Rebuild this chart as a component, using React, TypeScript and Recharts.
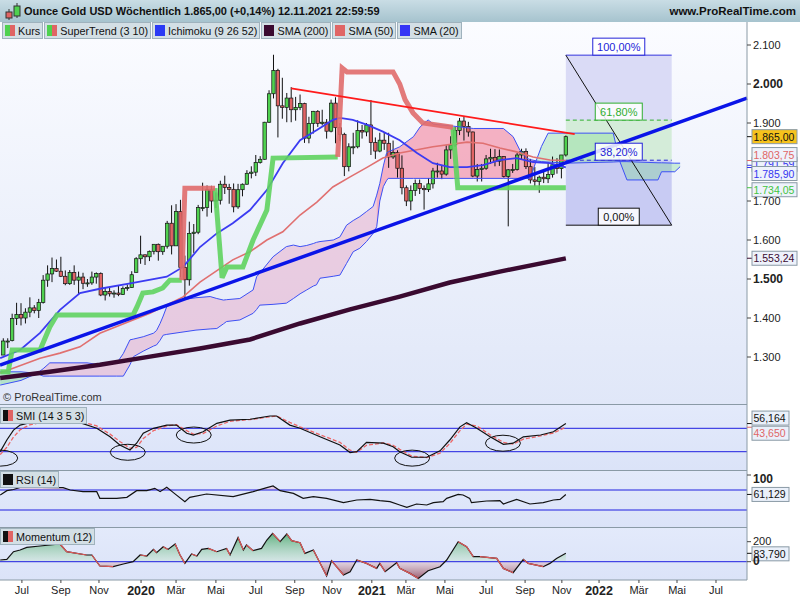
import React from 'react';
import { ComposedChart, Bar, Line, Area, Scatter, XAxis, YAxis, ReferenceLine } from 'recharts';

type Pair = [number, number];

// weekly candles, first bar = week of 7 Jun 2019, last = 12 Nov 2021
const open = [1305, 1341, 1342, 1399, 1409, 1400, 1415, 1426, 1419, 1440, 1497, 1513, 1527, 1520, 1507, 1488, 1517, 1497, 1505, 1489, 1490, 1505, 1514, 1459, 1468, 1462, 1464, 1460, 1476, 1478, 1517, 1552, 1562, 1557, 1571, 1589, 1570, 1584, 1643, 1585, 1673, 1530, 1498, 1617, 1620, 1683, 1683, 1729, 1700, 1702, 1743, 1735, 1730, 1685, 1729, 1743, 1771, 1774, 1799, 1807, 1902, 1975, 2035, 1944, 1940, 1964, 1934, 1940, 1950, 1861, 1899, 1930, 1899, 1902, 1879, 1951, 1888, 1871, 1788, 1839, 1839, 1881, 1877, 1895, 1850, 1828, 1856, 1848, 1813, 1824, 1784, 1734, 1700, 1727, 1745, 1732, 1729, 1744, 1777, 1777, 1769, 1831, 1844, 1881, 1905, 1891, 1877, 1764, 1781, 1784, 1808, 1812, 1802, 1814, 1763, 1780, 1781, 1818, 1827, 1788, 1754, 1750, 1761, 1757, 1768, 1793, 1783, 1818];
const high = [1348, 1348, 1411, 1439, 1438, 1425, 1453, 1433, 1449, 1510, 1535, 1555, 1550, 1557, 1522, 1523, 1535, 1519, 1516, 1500, 1519, 1517, 1517, 1479, 1478, 1471, 1484, 1481, 1486, 1520, 1556, 1611, 1563, 1573, 1589, 1591, 1584, 1649, 1689, 1692, 1703, 1560, 1647, 1641, 1690, 1747, 1740, 1739, 1722, 1752, 1765, 1744, 1745, 1744, 1745, 1779, 1789, 1818, 1815, 1903, 1984, 2075, 2039, 2016, 1977, 1992, 1967, 1973, 1952, 1916, 1931, 1933, 1934, 1910, 1960, 1966, 1900, 1875, 1848, 1875, 1907, 1895, 1900, 1959, 1863, 1875, 1876, 1875, 1855, 1830, 1817, 1740, 1740, 1755, 1755, 1740, 1759, 1785, 1798, 1790, 1843, 1866, 1890, 1913, 1916, 1903, 1878, 1795, 1795, 1818, 1834, 1833, 1832, 1815, 1782, 1795, 1823, 1834, 1835, 1808, 1787, 1765, 1781, 1800, 1814, 1810, 1818, 1868];
const low = [1305, 1323, 1340, 1382, 1381, 1386, 1402, 1412, 1400, 1437, 1480, 1492, 1518, 1505, 1484, 1485, 1485, 1460, 1474, 1480, 1485, 1488, 1456, 1445, 1455, 1452, 1456, 1459, 1470, 1477, 1517, 1539, 1536, 1546, 1563, 1547, 1562, 1578, 1563, 1585, 1504, 1451, 1483, 1567, 1615, 1674, 1660, 1670, 1682, 1691, 1718, 1693, 1671, 1680, 1712, 1742, 1758, 1764, 1796, 1806, 1900, 1963, 1863, 1911, 1902, 1902, 1906, 1933, 1849, 1848, 1873, 1890, 1894, 1860, 1876, 1848, 1854, 1764, 1776, 1820, 1835, 1860, 1866, 1818, 1808, 1825, 1831, 1785, 1808, 1760, 1717, 1687, 1676, 1713, 1718, 1678, 1723, 1732, 1760, 1756, 1765, 1808, 1839, 1869, 1855, 1865, 1761, 1750, 1750, 1780, 1795, 1789, 1790, 1760, 1635, 1772, 1778, 1806, 1782, 1745, 1737, 1721, 1746, 1746, 1760, 1770, 1758, 1814];
const close = [1341, 1341, 1399, 1409, 1400, 1415, 1426, 1419, 1440, 1497, 1513, 1527, 1520, 1507, 1488, 1517, 1497, 1505, 1489, 1490, 1505, 1514, 1459, 1468, 1462, 1464, 1460, 1476, 1478, 1511, 1552, 1562, 1557, 1571, 1589, 1570, 1584, 1643, 1585, 1673, 1530, 1498, 1617, 1620, 1683, 1683, 1729, 1700, 1702, 1743, 1735, 1730, 1685, 1729, 1743, 1771, 1774, 1799, 1807, 1902, 1975, 2035, 1944, 1940, 1964, 1934, 1940, 1950, 1861, 1899, 1930, 1899, 1902, 1879, 1951, 1888, 1871, 1788, 1839, 1839, 1881, 1877, 1895, 1850, 1828, 1856, 1848, 1813, 1824, 1784, 1734, 1700, 1727, 1745, 1732, 1729, 1744, 1777, 1777, 1769, 1831, 1844, 1881, 1905, 1891, 1877, 1764, 1781, 1784, 1808, 1812, 1802, 1814, 1763, 1780, 1781, 1818, 1827, 1788, 1754, 1750, 1761, 1757, 1768, 1793, 1783, 1818, 1865];

// moving averages as [week, value]
const sma20: Pair[] = [[-0.7, 1297], [3.8, 1318], [8.3, 1362], [12.8, 1421], [17.3, 1464], [21.8, 1475], [29.3, 1490], [36.9, 1506], [40.6, 1531], [44.4, 1582], [48.2, 1617], [51.8, 1643], [55.7, 1677], [59.5, 1728], [63.1, 1797], [67, 1856], [70.8, 1882], [74.4, 1908], [76, 1913], [78.9, 1908], [82.2, 1895], [85.7, 1878], [89.5, 1856], [93.4, 1823], [97, 1797], [100.8, 1787], [104.7, 1787], [108.3, 1792], [112.1, 1805], [115.9, 1810], [119.6, 1800], [123.4, 1797], [127, 1786]];
const sma50: Pair[] = [[-0.7, 1259], [8.3, 1297], [12.8, 1310], [17.3, 1326], [21.8, 1361], [33.1, 1412], [40.6, 1454], [44.4, 1492], [51.8, 1549], [55.7, 1570], [59.5, 1600], [63.1, 1621], [67, 1664], [70.8, 1697], [74.4, 1736], [78.3, 1762], [82.2, 1787], [85.7, 1810], [89.5, 1823], [97, 1839], [104.7, 1851], [108.3, 1848], [112.1, 1836], [115.9, 1826], [119.6, 1813], [123.4, 1805], [127, 1804]];
const sma200: Pair[] = [[-0.7, 1246], [10.5, 1262], [21.8, 1280], [33.1, 1301], [44.4, 1322], [55.7, 1345], [67, 1386], [78.3, 1422], [89.5, 1455], [100.8, 1491], [112.1, 1519], [127, 1553]];

// Ichimoku cloud (spans already shifted 26 weeks ahead)
const cloudIdx = [-0.7, 4, 7.6, 9, 10.5, 18.9, 21.8, 25.6, 27.1, 28.6, 29.4, 31.6, 33.9, 34.6, 35.4, 36.1, 36.9, 39.9, 43.5, 46.7, 48.2, 49.7, 50.4, 53.4, 56.4, 57.2, 57.9, 60.9, 63.9, 65.5, 67, 68.5, 70, 70.7, 71.5, 74.5, 76, 77.5, 79, 80.5, 82, 83.5, 84.3, 85, 85.8, 86.5, 86.9, 89.5, 92.6, 94.1, 95.9, 97.1, 101.6, 106.1, 112.9, 115.1, 116.6, 118.1, 119, 120.3, 121.5, 123, 127, 137.7, 139.2, 140.8, 147.8, 148.6, 151.6, 152.8];
const spanA = [1228, 1240, 1258, 1270, 1285, 1285, 1280, 1284, 1309, 1344, 1346, 1352, 1361, 1368, 1386, 1405, 1429, 1446, 1452, 1455, 1450, 1446, 1447, 1450, 1472, 1506, 1515, 1557, 1583, 1587, 1583, 1586, 1591, 1594, 1596, 1600, 1608, 1638, 1650, 1660, 1673, 1686, 1715, 1745, 1790, 1822, 1826, 1839, 1865, 1890, 1908, 1897, 1892, 1886, 1886, 1865, 1831, 1810, 1806, 1803, 1801, 1800, 1797, 1800, 1801, 1801, 1798, 1798, 1797, 1797];
const spanB = [1262, 1262, 1258, 1251, 1251, 1251, 1251, 1251, 1251, 1280, 1301, 1315, 1328, 1331, 1343, 1356, 1358, 1363, 1369, 1372, 1373, 1385, 1391, 1395, 1412, 1422, 1433, 1435, 1438, 1450, 1462, 1472, 1482, 1485, 1502, 1507, 1510, 1540, 1570, 1579, 1596, 1617, 1634, 1700, 1737, 1752, 1758, 1758, 1758, 1758, 1758, 1758, 1758, 1758, 1758, 1758, 1758, 1758, 1758, 1803, 1840, 1874, 1874, 1874, 1801, 1754, 1754, 1775, 1775, 1788];
const cloudBreaks = [-0.7, 7.6, 84.3, 120.3, 152.8];
const cloudFills = ['rgba(110,215,130,0.4)', 'rgba(232,170,200,0.5)', 'rgba(244,140,165,0.65)', 'rgba(110,215,130,0.3)'];

// SuperTrend (3 10) segments
const stGreen: Pair[][] = [
  [[-0.7, 1262], [1.1, 1262], [2, 1318], [8.3, 1318], [10.5, 1377], [12.1, 1408], [29.3, 1408], [30.2, 1429], [31.5, 1464], [33.8, 1467], [36, 1477], [37.6, 1497], [40.3, 1497]],
  [[47.8, 1733], [49.4, 1503], [50.5, 1531], [54.1, 1531], [56.4, 1600], [59.5, 1677], [60.9, 1810], [75.5, 1813]],
  [[101.5, 1889], [102.6, 1734], [127, 1734]],
];
const stRed: Pair[][] = [
  [[40.3, 1497], [41, 1733], [47.8, 1733]],
  [[75.5, 1813], [76.5, 2041], [77.6, 2031], [88, 2031], [89.5, 2000], [90.7, 1960], [92.5, 1926], [94.7, 1900], [101.5, 1889]],
];

const resistance: Pair[] = [[65, 1989], [129, 1871.5]];
const support: Pair[] = [[-0.745, 1279.5], [167.9, 1964]];

const fibX = [127, 150.9];
const fibLevels = [1638, 1804.6, 1907.4, 2074];
const fibLabels = ['0,00%', '38,20%', '61,80%', '100,00%'];

// lower panels
const smi: Pair[] = [[-0.7, -40], [0.8, 0], [2.3, 34], [3.8, 51], [6, 59], [10.5, 68], [16.6, 63], [21.1, 40], [24.1, 11], [26.3, -17], [28.6, -34], [30.1, -11], [31.6, 23], [33.9, 40], [36.9, 51], [39.1, 51], [41.4, 23], [42.9, 17], [45.1, 28], [48.2, 57], [51.2, 68], [55.7, 71], [60.2, 82], [61.7, 82], [64.7, 51], [67, 40], [71.5, 11], [76, -17], [78.3, -43], [79.8, -40], [82, -8], [85.8, -11], [88, -23], [89.5, -40], [92.2, -59], [95.6, -59], [98.6, -37], [100.8, 0], [103.1, 45], [104.6, 59], [106.9, 40], [109.9, 11], [112.9, -15], [115.1, -11], [117.4, 11], [121.3, 17], [124.2, 28], [127, 56.2]];
const smiSignal: Pair[] = [[-0.7, -50], [0.8, -25], [2.3, 10], [3.8, 35], [6, 52], [10.5, 66], [16.6, 66], [21.1, 48], [24.1, 20], [26.3, -5], [28.6, -28], [30.1, -25], [31.6, 5], [33.9, 32], [36.9, 48], [39.1, 52], [41.4, 32], [42.9, 20], [45.1, 22], [48.2, 48], [51.2, 64], [55.7, 70], [60.2, 79], [61.7, 82], [64.7, 60], [67, 45], [71.5, 18], [76, -8], [78.3, -35], [79.8, -42], [82, -18], [85.8, -10], [88, -18], [89.5, -32], [92.2, -55], [95.6, -60], [98.6, -45], [100.8, -12], [103.1, 32], [104.6, 54], [106.9, 48], [109.9, 18], [112.9, -8], [115.1, -14], [117.4, 3], [121.3, 14], [124.2, 24], [127, 43.7]];
const smiMarks: Pair[] = [[-0.7, -62], [28.1, -42], [43, 17], [92.3, -62], [112.8, -11]];
const rsi: Pair[] = [[-0.7, 60], [0.8, 68.7], [2.3, 71], [3.8, 75], [8.3, 75], [13.5, 74.7], [15.1, 70], [18, 66.7], [21.1, 66.7], [21.8, 53.3], [25.6, 53.3], [27.9, 55.3], [30.1, 68.7], [32.4, 68.7], [34.2, 73.3], [35.4, 66.7], [36.9, 75.3], [38.4, 64.7], [41, 46.7], [42.1, 55.3], [45.9, 62], [51.9, 56.7], [56.4, 66.7], [59.5, 74.7], [60.9, 78], [62.5, 68.7], [65.5, 63.3], [67.7, 53.3], [70, 56.7], [73, 53.3], [76.8, 44.7], [79.8, 50], [82.8, 51.3], [85, 48.7], [87.3, 46.7], [89.5, 40], [91.1, 35.3], [93.3, 42], [95.6, 40], [97.1, 44.7], [99.3, 46.7], [100.1, 53.3], [102.7, 61.3], [103.8, 60], [105.3, 53.3], [105.7, 44.7], [109.1, 48], [112.1, 48.7], [112.9, 42], [115.9, 51.3], [118.9, 42], [121.9, 44.7], [124.2, 50], [125.7, 51.3], [127, 61.1]];
const momentum: Pair[] = [[-0.7, 17], [0.8, 23], [2.3, 100], [3.8, 117], [5.3, 143], [8.3, 157], [12.8, 177], [14.3, 100], [18.8, 67], [20, 67], [21.8, -43], [24.8, -50], [27.1, -23], [29.3, 0], [30.9, 67], [32.4, 57], [33.9, 123], [34.6, 90], [36.1, 150], [37.2, 123], [38.8, 177], [39.9, 67], [41, -17], [42.5, 77], [43.7, 57], [44.8, 123], [46.3, 133], [48.2, 100], [50.4, 133], [51.2, 67], [53, 243], [54.2, 117], [54.9, 167], [56.4, 110], [58.3, 133], [59.5, 217], [60.8, 283], [62.5, 200], [64, 277], [65.1, 210], [67, 190], [68.1, 83], [70, 117], [73, -143], [74.1, 10], [76.8, -133], [78.3, -100], [79.8, 17], [82, -17], [84.3, -67], [85, -17], [86.2, -100], [88.8, -10], [89.5, -67], [91.8, -117], [93.7, -167], [95.9, -90], [98.6, -50], [100.1, 17], [102.7, 200], [104.6, 150], [106.1, 50], [107.6, 50], [111.4, 33], [112.9, -67], [115.1, -110], [117.4, 23], [118.5, -17], [121.9, -50], [123.4, -17], [124.9, 33], [127, 83.8]];

const monthTicks = [4.2, 13, 21.6, 31.1, 39, 48, 57, 65.8, 74.2, 83.2, 90.9, 99.7, 109, 117.8, 126.1, 134.5, 143.5, 152.1, 160.9];
const monthLabels = ['Jul', 'Sep', 'Nov', '2020', 'Mär', 'Mai', 'Jul', 'Sep', 'Nov', '2021', 'Mär', 'Mai', 'Jul', 'Sep', 'Nov', '2022', 'Mär', 'Mai', 'Jul'];
// 1.800 sits under the value tags in the original, so it is left out
const priceTicks = [1300, 1400, 1500, 1600, 1700, 1900, 2000, 2100];

const lastValues = [1791.59, 1803.75, 1785.9, 1734.05, 1553.24, 1865.0];
const lastColors = ['#3535f0', '#e06666', '#3535f0', '#3fc43f', '#3a0a30', '#111'];
const lastShift = [-1, -6, 6, 2, 0, 0];

const X_DOMAIN: [number, number] = [-0.745, 167.9];
const GREEN = '#4fd14f';
const RED = '#e06464';
const FONT = "'Liberation Sans', Arial, sans-serif";

const de = (v: number, d: number) => {
  const [int, frac] = v.toFixed(d).split('.');
  const s = int.replace(/\B(?=(\d{3})+(?!\d))/g, '.');
  return frac ? `${s},${frac}` : s;
};
const rowsOf = (p: Pair[]) => p.map(([i, v]) => ({ i, v }));

const candles = open.map((o, k) => ({ i: k, o, h: high[k], l: low[k], c: close[k] }));
const cloudRows = cloudIdx.map((i, k) => ({ i, a: spanA[k], b: spanB[k], r: [Math.min(spanA[k], spanB[k]), Math.max(spanA[k], spanB[k])] }));
const cloudSegments = cloudFills.map((fill, s) => ({
  fill,
  rows: cloudRows.filter((r) => r.i >= cloudBreaks[s] && r.i <= cloudBreaks[s + 1]),
}));
const fibBands = [
  { lo: fibLevels[0], hi: fibLevels[1], fill: '#c8cbf3' },
  { lo: fibLevels[1], hi: fibLevels[2], fill: '#d4ecd9' },
  { lo: fibLevels[2], hi: fibLevels[3], fill: '#dadbf6' },
];
const fibMid = (fibX[0] + fibX[1]) / 2;
const fibTagStyle = [
  { color: '#111', w: 41 },
  { color: '#2424d8', w: 47 },
  { color: '#2fae2f', w: 47 },
  { color: '#2424d8', w: 52 },
];
const fibTags = fibLevels.map((v, k) => ({ i: fibMid, v, text: fibLabels[k], ...fibTagStyle[k] }));
const priceTags = lastValues.map((v, k) => ({
  i: X_DOMAIN[1], v, text: de(v, 2), color: lastColors[k], dy: lastShift[k], w: 45,
  bg: k === 5 ? '#f6c21c' : '#eef2fb',
}));
const tag = (v: number, text: string, color: string, dy: number) => ({ i: X_DOMAIN[1], v, text, color, dy, w: 37, bg: '#eaf0fa' });

// momentum: falling stretches drawn red
const momRuns: { i: number; v: number }[][] = [];
for (let k = 1; k < momentum.length; k++) {
  if (momentum[k][1] < momentum[k - 1][1]) {
    const last = momRuns[momRuns.length - 1];
    const prev = { i: momentum[k - 1][0], v: momentum[k - 1][1] };
    const cur = { i: momentum[k][0], v: momentum[k][1] };
    if (last && last[last.length - 1].i === prev.i) last.push(cur);
    else momRuns.push([prev, cur]);
  }
}
const momVals = momentum.map((p) => p[1]);
const momMax = Math.max(...momVals);
const momMin = Math.min(...momVals);
const momZero = momMax / (momMax - momMin);

const Candle = (p: any) => {
  const { x, y, width, height, payload } = p;
  if (!payload || x == null) return null;
  const { o, h, l, c } = payload;
  const top = Math.min(y, y + height);
  const span = Math.abs(height);
  const cx = x + width / 2;
  const py = (v: number) => top + ((h - v) / (h - l)) * span;
  const y1 = py(Math.max(o, c));
  const y2 = py(Math.min(o, c));
  return (
    <g>
      <line x1={cx} x2={cx} y1={top} y2={top + span} stroke="#111" strokeWidth={1} />
      <rect x={cx - 1.7} y={y1} width={3.4} height={Math.max(y2 - y1, 1)} fill={c >= o ? GREEN : RED} stroke="#111" strokeWidth={0.7} />
    </g>
  );
};

const Tag = (p: any) => {
  const { cx, cy, payload } = p;
  const y = cy + payload.dy;
  return (
    <g>
      <line x1={cx} x2={cx + 5} y1={cy} y2={cy} stroke={payload.color} />
      <rect x={cx + 5} y={y - 7} width={payload.w} height={14} fill={payload.bg} stroke="#8a9aa6" />
      <text x={cx + 6.5} y={y + 4} fontSize={10.5} fill={payload.color}>{payload.text}</text>
    </g>
  );
};

const FibTag = (p: any) => {
  const { cx, cy, payload } = p;
  return (
    <g>
      <rect x={cx - payload.w / 2} y={cy - 17} width={payload.w} height={17} fill="#fff" fillOpacity={0.85} stroke={payload.color} />
      <text x={cx} y={cy - 4.5} fontSize={11} textAnchor="middle" fill={payload.color}>{payload.text}</text>
    </g>
  );
};

const Ellipse = (p: any) => <ellipse cx={p.cx} cy={p.cy} rx={17.5} ry={8} fill="none" stroke="#111" strokeWidth={1} />;

const makeTick = (bold: number[], dy = 4) => (p: any) => {
  const { x, y, payload } = p;
  const b = bold.includes(payload.value);
  return (
    <text x={x} y={y} dy={dy} fontSize={b ? 12 : 11} fontWeight={b ? 700 : 400} fill="#222">{de(payload.value, 0)}</text>
  );
};

const MonthTick = (p: any) => {
  const { x, y, payload, index } = p;
  const k = typeof index === 'number' ? index : monthTicks.indexOf(payload.value);
  const label = monthLabels[k] ?? '';
  const year = /^\d{4}$/.test(label);
  return (
    <text x={x} y={y + (year ? 10 : 9)} textAnchor="middle" fontSize={year ? 12.5 : 11} fontWeight={year ? 700 : 400} fill="#222">{label}</text>
  );
};

const Swatch = ({ a, b }: { a: string; b: string }) => (
  <span style={{ display: 'inline-flex', width: 10, height: 11, marginRight: 3 }}>
    <span style={{ width: 5, background: a }} />
    <span style={{ width: 5, background: b }} />
  </span>
);

const LegendBox = ({ text, a, b }: { text: string; a: string; b: string }) => (
  <div style={{ display: 'flex', alignItems: 'center', height: 15, padding: '0 2px', background: '#d3dfe5', border: '1px solid #9fb2bd', fontSize: 10.8, color: '#111', whiteSpace: 'nowrap' }}>
    <Swatch a={a} b={b} />
    {text}
  </div>
);

const line = (data: Pair[], stroke: string, w: number, extra: any = {}) => (
  <Line data={rowsOf(data)} dataKey="v" stroke={stroke} strokeWidth={w} dot={false} activeDot={false} isAnimationActive={false} {...extra} />
);

const axisStroke = '#8a9aa6';

function MainPanel() {
  return (
    <div style={{ position: 'relative', width: 800, height: 382 }}>
      <div style={{ position: 'absolute', left: 0, top: 0, width: 747, height: 382, background: 'linear-gradient(#fbfcff, #e0e7f8)' }} />
      <ComposedChart width={800} height={382} data={candles} margin={{ top: 0, right: 0, bottom: 0, left: 0 }}>
        <XAxis type="number" dataKey="i" domain={X_DOMAIN} hide />
        <YAxis orientation="right" width={53} domain={[1179.5, 2159]} ticks={priceTicks} interval={0} tick={makeTick([1500, 2000])} tickSize={4} tickMargin={2} tickLine={{ stroke: '#444' }} axisLine={{ stroke: axisStroke }} />
        {fibBands.map((b, k) => (
          <Area key={`fib${k}`} data={fibX.map((i) => ({ i, r: [b.lo, b.hi] }))} dataKey="r" stroke="none" fill={b.fill} fillOpacity={1} isAnimationActive={false} />
        ))}
        {cloudSegments.map((s, k) => (
          <Area key={`cl${k}`} data={s.rows} dataKey="r" stroke="none" fill={s.fill} fillOpacity={1} isAnimationActive={false} />
        ))}
        <Bar dataKey={(d: any) => [d.l, d.h]} barSize={4} shape={Candle} isAnimationActive={false} />
        <Line data={cloudRows} dataKey="a" stroke="#3d50f5" strokeWidth={1} dot={false} activeDot={false} isAnimationActive={false} />
        <Line data={cloudRows} dataKey="b" stroke="#3d50f5" strokeWidth={1} dot={false} activeDot={false} isAnimationActive={false} />
        {line(sma200, '#3a0a30', 4.5)}
        {line(sma50, '#e07070', 1.6)}
        {line(sma20, '#3b3bf2', 1.8)}
        {stGreen.map((s, k) => <React.Fragment key={`sg${k}`}>{line(s, '#5fd35f', 5, { strokeOpacity: 0.9 })}</React.Fragment>)}
        {stRed.map((s, k) => <React.Fragment key={`sr${k}`}>{line(s, '#e06b6b', 5, { strokeOpacity: 0.9 })}</React.Fragment>)}
        {line([[fibX[0], fibLevels[3]], [fibX[1], fibLevels[3]]], '#3333dd', 1)}
        {line([[fibX[0], fibLevels[0]], [fibX[1], fibLevels[0]]], '#111', 1)}
        {line([[fibX[0], fibLevels[2]], [fibX[1], fibLevels[2]]], '#2fae2f', 1, { strokeDasharray: '4 3' })}
        {line([[fibX[0], fibLevels[1]], [fibX[1], fibLevels[1]]], '#2424d8', 1, { strokeDasharray: '4 3' })}
        {line([[fibX[0], fibLevels[3]], [fibX[1], fibLevels[0]]], '#111', 1)}
        {line(resistance, '#ff1a1a', 1.8)}
        {line(support, '#0a14e8', 3.5)}
        <Scatter data={fibTags} dataKey="v" shape={FibTag} isAnimationActive={false} />
        <Scatter data={priceTags} dataKey="v" shape={Tag} isAnimationActive={false} />
      </ComposedChart>
      <div style={{ position: 'absolute', left: 2, top: 0, display: 'flex', gap: 1 }}>
        <LegendBox text="Kurs" a={GREEN} b={RED} />
        <LegendBox text="SuperTrend (3 10)" a={GREEN} b={RED} />
        <LegendBox text="Ichimoku (9 26 52)" a="#2a3af5" b="#2a3af5" />
        <LegendBox text="SMA (200)" a="#3a0a30" b="#3a0a30" />
        <LegendBox text="SMA (50)" a="#e06666" b="#e06666" />
        <LegendBox text="SMA (20)" a="#3535f5" b="#3535f5" />
      </div>
      <div style={{ position: 'absolute', left: 3, top: 369, fontSize: 11, color: '#333' }}>© ProRealTime.com</div>
    </div>
  );
}

function LowerPanel({ height, plotHeight, domain, ticks, bold, tickDy, legend, swatch, children, showX }: any) {
  return (
    <div style={{ position: 'relative', width: 800, height }}>
      <div style={{ position: 'absolute', left: 0, top: 0, width: 747, height: plotHeight, background: 'linear-gradient(#e3eafb, #dbe3f8)' }} />
      <div style={{ position: 'absolute', left: 0, top: 0, width: 747, height: 1, background: axisStroke }} />
      <ComposedChart width={800} height={height} margin={{ top: 0, right: 0, bottom: 0, left: 0 }}>
        <XAxis type="number" dataKey="i" domain={X_DOMAIN} hide={!showX} ticks={monthTicks} interval={0} tick={MonthTick} height={20} tickSize={3} tickLine={{ stroke: '#444' }} axisLine={{ stroke: axisStroke }} />
        <YAxis orientation="right" width={53} domain={domain} ticks={ticks} interval={0} tick={makeTick(bold, tickDy)} tickSize={4} tickMargin={2} tickLine={{ stroke: '#444' }} axisLine={{ stroke: axisStroke }} />
        {children}
      </ComposedChart>
      <div style={{ position: 'absolute', left: 0, top: legend.top }}>
        <LegendBox text={legend.text} a="#111" b={swatch} />
      </div>
    </div>
  );
}

const blueLevel = '#1f1fe0';

export default function App() {
  return (
    <div style={{ position: 'fixed', left: 0, top: 0, width: 800, height: 600, background: '#fff', fontFamily: FONT, overflow: 'hidden' }}>
      <div style={{ height: 22, background: 'linear-gradient(#c9dde5, #a6c3ce)', display: 'flex', alignItems: 'center', position: 'relative' }}>
        <svg width={20} height={20} style={{ marginLeft: 3 }}>
          <line x1={6} x2={6} y1={8} y2={19} stroke="#333" />
          <rect x={3} y={11} width={6} height={6} fill={RED} stroke="#333" />
          <line x1={14} x2={14} y1={2} y2={17} stroke="#333" />
          <rect x={11} y={5} width={6} height={10} fill={GREEN} stroke="#333" />
        </svg>
        <span style={{ fontWeight: 700, fontSize: 11, color: '#111', marginLeft: 1 }}>Ounce Gold USD Wöchentlich 1.865,00 (+0,14%) 12.11.2021 22:59:59</span>
        <span style={{ position: 'absolute', right: 4, fontWeight: 700, fontSize: 11.5, color: '#111' }}>www.ProRealTime.com</span>
      </div>
      <MainPanel />
      <LowerPanel height={66} plotHeight={66} domain={[-102.6, 123.1]} ticks={[]} bold={[]} legend={{ text: 'SMI (14 3 5 3)', top: 3 }} swatch={RED}>
        <ReferenceLine y={40} stroke={blueLevel} />
        <ReferenceLine y={-40} stroke={blueLevel} />
        <Line data={rowsOf(smiSignal)} dataKey="v" stroke="#e66" strokeWidth={1.3} strokeDasharray="4 2" dot={false} activeDot={false} isAnimationActive={false} />
        <Line data={rowsOf(smi)} dataKey="v" stroke="#111" strokeWidth={1.2} dot={false} activeDot={false} isAnimationActive={false} />
        <Scatter data={rowsOf(smiMarks)} dataKey="v" shape={Ellipse} isAnimationActive={false} />
        <Scatter data={[tag(43.65, '43,650', '#e06666', 6), tag(56.164, '56,164', '#111', -5.5)]} dataKey="v" shape={Tag} isAnimationActive={false} />
      </LowerPanel>
      <LowerPanel height={57} plotHeight={57} domain={[-4, 110]} ticks={[100]} bold={[100]} tickDy={8} legend={{ text: 'RSI (14)', top: 1 }} swatch="#111">
        <ReferenceLine y={70} stroke={blueLevel} />
        <ReferenceLine y={30} stroke={blueLevel} />
        <Area data={rowsOf(rsi)} dataKey={(d: any) => [70, Math.max(70, d.v)]} stroke="none" fill="#e4c4dc" fillOpacity={0.8} isAnimationActive={false} />
        <Line data={rowsOf(rsi)} dataKey="v" stroke="#111" strokeWidth={1.2} dot={false} activeDot={false} isAnimationActive={false} />
        <Scatter data={[tag(61.129, '61,129', '#111', 0)]} dataKey="v" shape={Tag} isAnimationActive={false} />
      </LowerPanel>
      <LowerPanel height={73} plotHeight={53} domain={[-183, 347]} ticks={[200, 0]} bold={[0]} tickDy={3} legend={{ text: 'Momentum (12)', top: 1 }} swatch={RED} showX>
        <defs>
          <linearGradient id="momFill" x1="0" y1="0" x2="0" y2="1">
            <stop offset="0" stopColor="#5aae7a" stopOpacity={0.95} />
            <stop offset={momZero} stopColor="#cfe6da" stopOpacity={0.6} />
            <stop offset={momZero} stopColor="#e2c8d2" stopOpacity={0.6} />
            <stop offset="1" stopColor="#97566a" stopOpacity={0.95} />
          </linearGradient>
        </defs>
        <Area data={rowsOf(momentum)} dataKey="v" baseValue={0} stroke="none" fill="url(#momFill)" fillOpacity={1} isAnimationActive={false} />
        <ReferenceLine y={0} stroke={blueLevel} />
        <Line data={rowsOf(momentum)} dataKey="v" stroke="#111" strokeWidth={1.2} dot={false} activeDot={false} isAnimationActive={false} />
        {momRuns.map((r, k) => (
          <Line key={`mr${k}`} data={r} dataKey="v" stroke="#e05a5a" strokeWidth={1.2} dot={false} activeDot={false} isAnimationActive={false} />
        ))}
        <Scatter data={[tag(83.79, '83,790', '#111', 0.5)]} dataKey="v" shape={Tag} isAnimationActive={false} />
      </LowerPanel>
    </div>
  );
}
